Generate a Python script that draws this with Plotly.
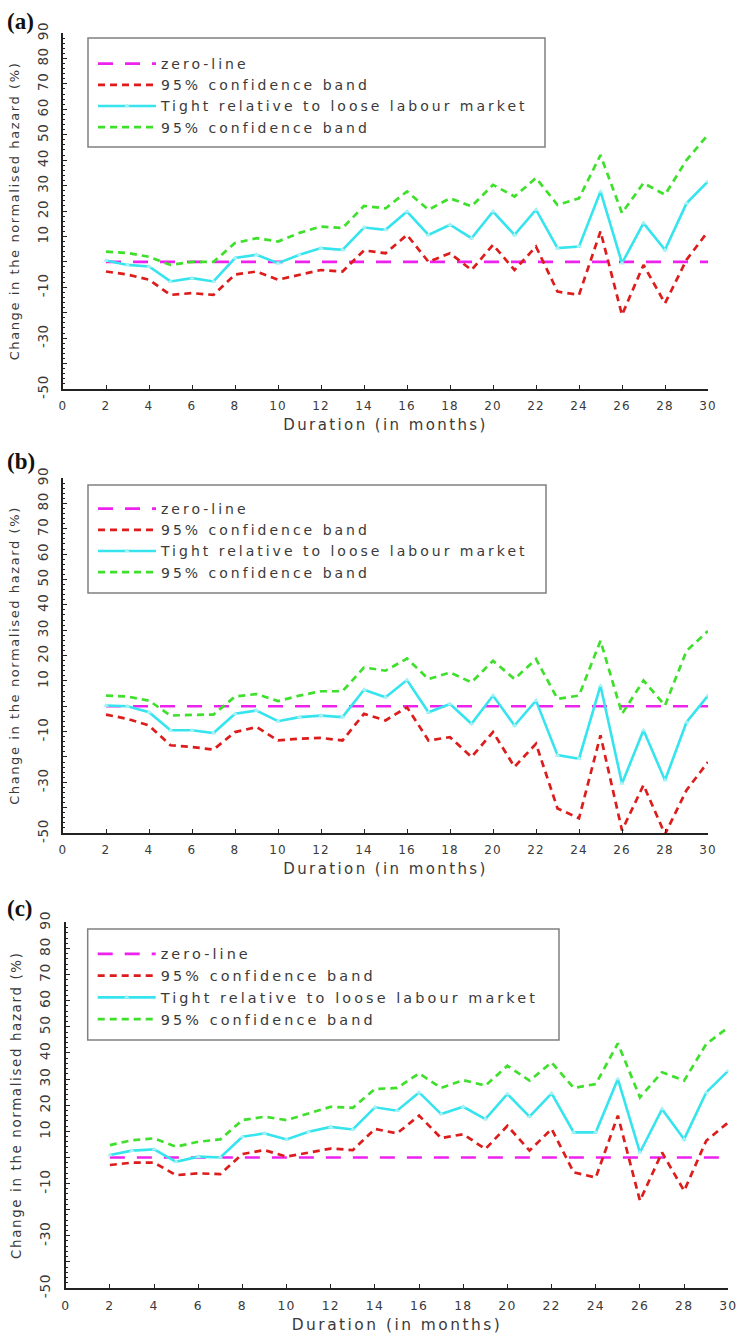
import plotly.graph_objects as go

# Duration axis (months) shared by all three panels
months = list(range(2, 31))

# Panel (a)
a_estimate = [0.5, -1.2, -1.8, -7.7, -6.4, -7.7, 1.5, 2.8, -0.5, 2.8, 5.4, 4.7, 13.5, 12.6,
              19.8, 10.6, 14.6, 9.3, 19.8, 10.6, 20.5, 5.4, 6.0, 27.7, -0.5, 15.2, 4.7, 23.0, 31.6]
a_upper = [4.0, 3.5, 2.0, -1.2, 0.0, 0.0, 7.4, 9.3, 8.0, 11.4, 13.9, 13.3, 22.0, 21.0,
           27.7, 20.5, 25.0, 21.8, 30.3, 25.7, 33.0, 22.4, 25.0, 42.0, 19.2, 31.0, 26.4, 40.0, 50.0]
a_lower = [-3.8, -5.0, -7.0, -13.0, -12.3, -13.0, -5.0, -3.8, -7.0, -5.0, -3.2, -3.8, 4.5, 3.4,
           10.6, 0.0, 3.4, -3.2, 6.7, -3.2, 6.0, -11.7, -13.0, 12.0, -20.9, -1.2, -16.3, 0.8, 12.0]

# Panel (b)
b_estimate = [0.3, 0.0, -2.4, -9.5, -9.5, -10.6, -3.0, -1.7, -5.9, -4.3, -3.7, -4.3, 6.5, 3.5,
              10.3, -2.4, 0.9, -6.9, 4.2, -7.6, 2.2, -19.3, -20.7, 8.1, -30.5, -9.5, -29.2, -6.3, 4.2]
b_upper = [4.2, 3.8, 2.2, -3.7, -3.4, -3.3, 3.8, 4.8, 2.0, 4.2, 5.9, 5.9, 15.3, 14.0,
           18.8, 10.7, 13.3, 9.4, 17.9, 10.7, 18.6, 2.9, 4.2, 25.8, -3.0, 10.1, 0.3, 21.8, 29.7]
b_lower = [-3.3, -5.0, -7.6, -15.4, -16.1, -17.1, -10.2, -8.2, -13.5, -12.8, -12.5, -13.5, -3.0, -5.6,
           -0.4, -13.5, -12.2, -20.0, -10.2, -23.9, -14.8, -40.3, -44.2, -11.5, -49.0, -31.1, -50.5, -33.1, -22.0]

# Panel (c)
c_estimate = [0.9, 2.6, 3.1, -1.7, 0.3, 0.0, 7.9, 9.2, 6.9, 9.8, 11.7, 10.7, 19.2, 17.9,
              24.9, 16.6, 19.4, 14.7, 24.3, 15.6, 24.5, 9.6, 9.6, 30.0, 1.9, 18.5, 7.0, 24.9, 33.2]
c_upper = [4.7, 6.6, 7.3, 4.1, 6.0, 6.9, 14.3, 15.6, 14.3, 16.9, 19.4, 19.0, 26.2, 26.6,
           32.2, 26.6, 29.6, 27.5, 35.1, 29.4, 36.4, 26.6, 28.1, 43.7, 23.0, 32.6, 29.4, 43.4, 49.8]
c_lower = [-2.9, -2.0, -2.0, -6.8, -6.1, -6.4, 1.3, 2.8, 0.3, 1.8, 3.4, 2.8, 10.9, 9.2,
           16.0, 7.4, 8.9, 3.2, 12.1, 2.6, 10.9, -5.7, -7.7, 16.0, -16.6, 1.9, -12.8, 6.4, 13.4]

zero_line = [0.0] * len(months)

panel_labels = ["(a)", "(b)", "(c)"]
series_names = ["zero-line", "95% confidence band",
                "Tight relative to loose labour market", "95% confidence band"]
x_ticks = list(range(0, 31, 2))
y_ticks = [-50, -40, -30, -20, -10, 0, 10, 20, 30, 40, 50, 60, 70, 80, 90]
y_ticktext = ["-50", "", "-30", "", "-10", "", "10", "20", "30", "40", "50", "60", "70", "80", "90"]

W, H = 740, 1338
FONT = "DejaVu Sans"
TEXT = "#3a3a3a"


def spaced(s, px):
    return f'<span style="letter-spacing:{px}px">{s}</span>'


# pixel boxes: plot area, legend frame, legend top, panel-letter centre, text scale
panels = [
    dict(est=a_estimate, up=a_upper, lo=a_lower, x=(63, 708), y=(33, 389),
         frame=(88, 38, 545, 147), leg_top=48, lab=21, k=1.0),
    dict(est=b_estimate, up=b_upper, lo=b_lower, x=(63, 708), y=(478, 833),
         frame=(88, 485, 546, 593), leg_top=493, lab=461, k=1.0),
    dict(est=c_estimate, up=c_upper, lo=c_lower, x=(65.7, 728.3), y=(922.4, 1288),
         frame=(87.7, 929, 559, 1040), leg_top=938, lab=908, k=1.03),
]

fig = go.Figure()
layout = {}
annotations = []
shapes = []

for i, p in enumerate(panels):
    n = "" if i == 0 else str(i + 1)
    xa, ya, lg = "x" + n, "y" + n, "legend" + n
    k = p["k"]
    names = [spaced(s, round(3.0 * k, 2)) for s in series_names]

    fig.add_trace(go.Scatter(
        x=months, y=zero_line, xaxis=xa, yaxis=ya, legend=lg, name=names[0],
        mode="lines", line=dict(color="#ee22ee", width=2.6, dash="15px,12px")))
    fig.add_trace(go.Scatter(
        x=months, y=p["lo"], xaxis=xa, yaxis=ya, legend=lg, name=names[1],
        mode="lines", line=dict(color="#dd1c1c", width=2.7, dash="7px,5px")))
    fig.add_trace(go.Scatter(
        x=months, y=p["est"], xaxis=xa, yaxis=ya, legend=lg, name=names[2],
        mode="lines+markers", line=dict(color="#36e4ee", width=2.6),
        marker=dict(symbol="triangle-up", size=5, color="#a8f2f6")))
    fig.add_trace(go.Scatter(
        x=months, y=p["up"], xaxis=xa, yaxis=ya, legend=lg, name=names[3],
        mode="lines", line=dict(color="#3ee02c", width=2.7, dash="7px,5px")))

    x0, x1 = p["x"]
    y0, y1 = p["y"]
    layout["xaxis" + n] = dict(
        domain=[x0 / W, x1 / W], anchor=ya, range=[0, 30], automargin=False,
        tickmode="array", tickvals=x_ticks, ticktext=[spaced(str(t), 1.2) for t in x_ticks],
        ticks="inside", ticklen=4, tickwidth=1.2, tickcolor="#222",
        showline=True, linecolor="#222", linewidth=2, showgrid=False, zeroline=False,
        tickfont=dict(family=FONT, size=12 * k, color=TEXT), ticklabelstandoff=5,
        title=dict(text=spaced("Duration (in months)", round(2.4 * k, 2)), standoff=7,
                   font=dict(family=FONT, size=15 * k, color=TEXT)))
    layout["yaxis" + n] = dict(
        domain=[1 - y1 / H, 1 - y0 / H], anchor=xa, range=[-50, 90], automargin=False,
        tickmode="array", tickvals=y_ticks, ticktext=[spaced(t, 0.6) for t in y_ticktext],
        tickangle=-90, ticks="inside", ticklen=4, tickwidth=1.2, tickcolor="#222",
        minor=dict(tickmode="linear", tick0=-50, dtick=2, ticks="inside", ticklen=2,
                   tickwidth=1, tickcolor="#222"),
        showline=True, linecolor="#222", linewidth=2, showgrid=False, zeroline=False,
        tickfont=dict(family=FONT, size=13.5 * k, color=TEXT), ticklabelstandoff=8,
        title=dict(text=spaced("Change in the normalised hazard (%)", round(1.6 * k, 2)),
                   standoff=12, font=dict(family=FONT, size=13 * k, color=TEXT)))

    # legend frame
    fx0, fy0, fx1, fy1 = p["frame"]
    shapes.append(dict(type="rect", xref="paper", yref="paper", layer="above",
                       x0=fx0 / W, x1=fx1 / W, y0=1 - fy1 / H, y1=1 - fy0 / H,
                       line=dict(color="#808080", width=1.5), fillcolor="white"))
    layout[lg] = dict(
        x=(fx0 + 5) / W, y=1 - p["leg_top"] / H, xanchor="left", yanchor="top",
        xref="paper", yref="paper", bgcolor="rgba(0,0,0,0)", borderwidth=0, itemwidth=58,
        font=dict(family=FONT, size=14 * k, color=TEXT), traceorder="normal", tracegroupgap=0)
    annotations.append(dict(
        text=f"<b>{panel_labels[i]}</b>", x=5 / W, y=1 - p["lab"] / H, xref="paper", yref="paper",
        xanchor="left", yanchor="middle", showarrow=False,
        font=dict(family="Liberation Serif", size=23, color="#111")))

fig.update_layout(
    width=W, height=H, margin=dict(l=0, r=0, t=0, b=0),
    paper_bgcolor="white", plot_bgcolor="white", showlegend=True,
    annotations=annotations, shapes=shapes, **layout)

fig.write_html("out.html")
